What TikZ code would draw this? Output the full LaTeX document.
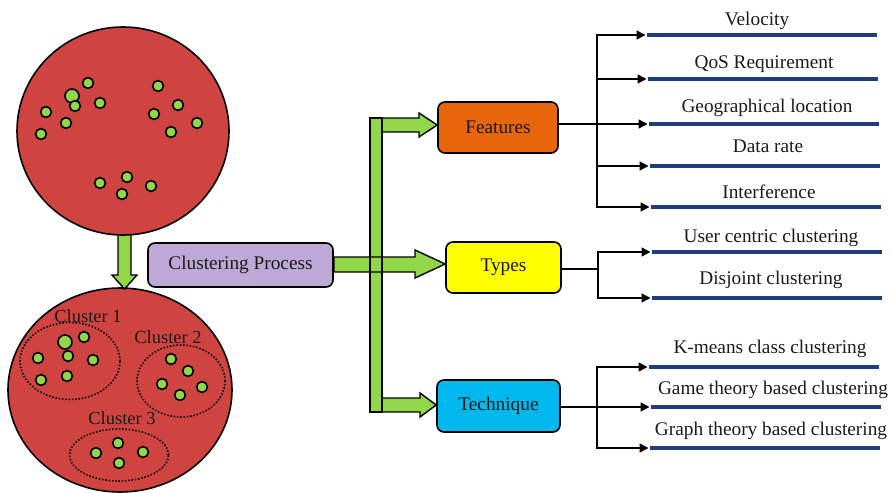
\documentclass[tikz,border=0pt]{standalone}
\usepackage{fontspec}
\setmainfont{Liberation Serif}
\usetikzlibrary{arrows.meta,calc,shapes.geometric}

\definecolor{disk}{HTML}{CF4440}
\definecolor{leaf}{HTML}{92D64A}
\definecolor{lav}{HTML}{BEA8D6}
\definecolor{featc}{HTML}{E8650C}
\definecolor{typec}{HTML}{FFFF00}
\definecolor{techc}{HTML}{00B8EE}
\definecolor{bar}{HTML}{1F3D7C}
\definecolor{ink}{HTML}{1A1A1A}

\begin{document}
\begin{tikzpicture}[x=1pt,y=-1pt,
  font=\fontsize{19.3}{21}\selectfont,
  disc/.style={ellipse, draw=black, line width=1.6pt, fill=disk, inner sep=0pt},
  pt/.style={draw=black, line width=1.6pt, fill=leaf},
  group/.style={ellipse, draw=black, line width=1.6pt, dash pattern=on 1.5pt off 1.8pt, inner sep=0pt},
  tag/.style={text=ink, inner sep=0pt, font=\fontsize{18.5}{20}\selectfont},
  box/.style={draw=black, line width=1.6pt, rounded corners=7pt, text=ink, inner sep=0pt},
  garrow/.style={draw=black, line width=1.4pt, fill=leaf, line join=miter},
  conn/.style={draw=black, line width=1.4pt, -{Triangle[length=9pt,width=9pt]}, shorten >=1.5pt},
  link/.style={draw=black, line width=1.4pt},
  bluebar/.style={draw=bar, line width=4pt},
  item/.style={anchor=base, text=ink, inner sep=0pt}]

\useasboundingbox (0,0) rectangle (890,492);

% ---- bottom disc: grouped users ----
\node[disc, minimum width=224pt, minimum height=204pt] (groups) at (120,390) {};
\node[group, minimum width=100pt, minimum height=77pt] (g1) at (70,361) {};
\node[group, minimum width=88pt, minimum height=72pt] (g2) at (181,381) {};
\node[group, minimum width=99pt, minimum height=52pt] (g3) at (119,455) {};
\node[tag] (g1t) at (88,316) {Cluster 1};
\node[tag] (g2t) at (168,337) {Cluster 2};
\node[tag] (g3t) at (122,418) {Cluster 3};
\draw[pt] (65,342) circle (7);
\foreach \p in {(84,337),(68,356),(38,358),(93,360),(41,380),(67,376),
                (171,359),(188,371),(162,384),(180,395),(202,387),
                (118,443),(96,453),(143,452),(119,463)}
  \draw[pt] \p circle (5.4);

% ---- downward arrow between the discs ----
\draw[garrow] (118,225) -- (131,225) -- (131,275) -- (137,275) -- (124.5,289)
  -- (112,275) -- (118,275) -- cycle;

% ---- top disc: scattered users ----
\node[disc, minimum width=212pt, minimum height=208pt] (pool) at (123,131) {};
\draw[pt] (72,96) circle (7);
\foreach \p in {(88,83),(75,106),(100,103),(46,112),(66,123),(41,134),
                (158,86),(178,105),(154,114),(197,123),(171,132),
                (100,183),(127,177),(122,194),(151,186)}
  \draw[pt] \p circle (5.4);

% ---- process boxes ----
\node[box, fill=lav, minimum width=185pt, minimum height=44pt] (cp) at (240.5,265) {Clustering Process};
\node[box, fill=featc, minimum width=120pt, minimum height=51pt] (feat) at (498,127.5) {Features};
\node[box, fill=typec, minimum width=115pt, minimum height=51pt] (types) at (503.5,267.5) {Types};
\node[box, fill=techc, minimum width=123pt, minimum height=52pt] (tech) at (498.5,406) {Technique};

% ---- green distribution arrows ----
\draw[garrow] (376,118) -- (419,118) -- (419,113) -- (feat.west |- 0,125) -- (419,137)
  -- (419,132) -- (376,132) -- cycle;
\draw[garrow] (376,398) -- (420,398) -- (420,393) -- (tech.west |- 0,405) -- (420,417)
  -- (420,412) -- (376,412) -- cycle;
\draw[garrow, fill=leaf] (370,118) rectangle (382,412);
\draw[garrow] (cp.east |- 0,257) -- (415,257) -- (415,250) -- (types.west |- 0,264) -- (415,278)
  -- (415,272) -- (cp.east |- 0,272) -- cycle;
\draw[link] (370,118) rectangle (382,412);

% ---- feature items ----
\coordinate (fj) at (597,124);
\coordinate (f1) at (647,35);
\coordinate (f2) at (648,79);
\coordinate (f3) at (649,124);
\coordinate (f4) at (650,166);
\coordinate (f5) at (651,207);
\foreach \i in {1,...,5} {
  \draw[bluebar] (f\i) -- ++(230,0);
  \draw[conn] (fj) |- (f\i);
}
\draw[link] (feat.east |- fj) -- (fj);
\node[item] (f1t) at (757,26) {Velocity};
\node[item] (f2t) at (764,69) {QoS Requirement};
\node[item] (f3t) at (767,112) {Geographical location};
\node[item] (f4t) at (768,152) {Data rate};
\node[item] (f5t) at (769,198) {Interference};

% ---- type items ----
\coordinate (tj) at (598,269);
\coordinate (t1) at (652,252);
\coordinate (t2) at (652,298);
\foreach \i in {1,2} {
  \draw[bluebar] (t\i) -- ++(230,0);
  \draw[conn] (tj) |- (t\i);
}
\draw[link] (types.east |- tj) -- (tj);
\node[item] (t1t) at (771,242) {User centric clustering};
\node[item] (t2t) at (771,284) {Disjoint clustering};

% ---- technique items ----
\coordinate (kj) at (597,407);
\coordinate (k1) at (649,367);
\coordinate (k2) at (651,407);
\coordinate (k3) at (650,448);
\foreach \i in {1,2,3} {
  \draw[bluebar] (k\i) -- ++(230,0);
  \draw[conn] (kj) |- (k\i);
}
\draw[link] (tech.east |- kj) -- (kj);
\node[item] (k1t) at (770,353) {K-means class clustering};
\node[item] (k2t) at (773,394) {Game theory based clustering};
\node[item] (k3t) at (771,435) {Graph theory based clustering};
\end{tikzpicture}
\end{document}
